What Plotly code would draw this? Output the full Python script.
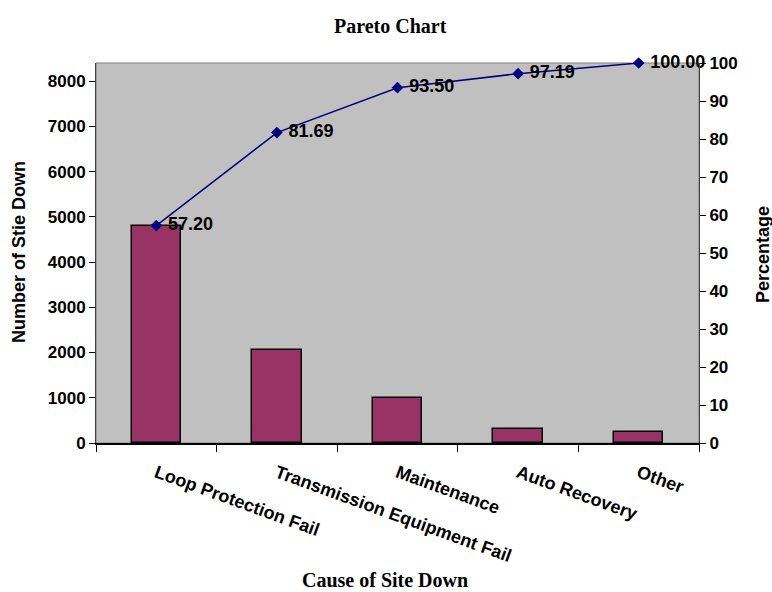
import plotly.graph_objects as go

# Site-down causes and their counts
causes = ["Loop Protection Fail", "Transmission Equipment Fail", "Maintenance",
          "Auto Recovery", "Other"]
counts = [4800, 2055, 991, 309, 236]

# Cumulative percentage for the Pareto line
total = sum(counts)
cum_pct = []
running = 0
for c in counts:
    running += c
    cum_pct.append(running / total * 100)

left_ticks = [0, 1000, 2000, 3000, 4000, 5000, 6000, 7000, 8000]
right_ticks = [0, 10, 20, 30, 40, 50, 60, 70, 80, 90, 100]

SANS = "Liberation Sans, Arial, sans-serif"
SERIF = "Liberation Serif, Times New Roman, serif"
tick_font = dict(family=SANS, size=17, color="black", weight="bold")
cat_font = dict(family=SANS, size=18, color="black", weight="bold")
label_font = dict(family=SANS, size=18, color="black", weight="bold")

fig = go.Figure()

fig.add_trace(go.Bar(
    x=causes, y=counts, width=0.41,
    marker=dict(color="#993366", line=dict(color="black", width=1.5)),
    yaxis="y", showlegend=False,
))

fig.add_trace(go.Scatter(
    x=causes, y=cum_pct, yaxis="y2",
    mode="lines+markers+text",
    line=dict(color="#000080", width=1.5),
    marker=dict(symbol="diamond", size=9, color="#000080"),
    text=["\u00a0" + f"{v:.2f}" for v in cum_pct],
    textposition="middle right",
    textfont=label_font,
    cliponaxis=False,
    showlegend=False,
))

fig.update_layout(
    width=772, height=592,
    margin=dict(l=96, r=73, t=63, b=149),
    paper_bgcolor="white",
    plot_bgcolor="#C0C0C0",
    bargap=0,
    xaxis=dict(
        type="category", range=[-0.5, 4.5],
        tickson="boundaries", ticks="outside", ticklen=7, tickcolor="black",
        showline=True, linecolor="black", linewidth=1.5,
        tickangle=20, tickfont=cat_font, ticklabelstandoff=11, showgrid=False,
    ),
    yaxis=dict(
        range=[0, 8400], tickvals=left_ticks,
        ticks="outside", ticklen=6, tickcolor="black",
        showline=True, linecolor="#404040", linewidth=1,
        tickfont=tick_font, showgrid=False, zeroline=False,
    ),
    yaxis2=dict(
        range=[0, 100], tickvals=right_ticks,
        overlaying="y", side="right",
        ticks="outside", ticklen=6, tickcolor="black",
        showline=True, linecolor="#404040", linewidth=1,
        tickfont=tick_font, showgrid=False, zeroline=False,
    ),
    shapes=[dict(type="rect", xref="paper", yref="paper", x0=0, x1=1, y0=0, y1=1,
                 line=dict(color="#808080", width=1), layer="below")],
    annotations=[
        dict(text="Pareto Chart", xref="paper", yref="paper",
             x=(390 - 96) / 603, y=1, yshift=37,
             xanchor="center", yanchor="middle", showarrow=False,
             font=dict(family=SERIF, size=20, color="black", weight="bold")),
        dict(text="Cause of Site Down", xref="paper", yref="paper",
             x=(385 - 96) / 603, y=0, yshift=-137,
             xanchor="center", yanchor="middle", showarrow=False,
             font=dict(family=SERIF, size=20, color="black", weight="bold")),
        dict(text="Number of Stie Down", xref="paper", yref="paper",
             x=0, xshift=-77, y=(443 - 252) / 380, textangle=-90,
             xanchor="center", yanchor="middle", showarrow=False,
             font=dict(family=SANS, size=18, color="black", weight="bold")),
        dict(text="Percentage", xref="paper", yref="paper",
             x=1, xshift=64, y=(443 - 255) / 380, textangle=-90,
             xanchor="center", yanchor="middle", showarrow=False,
             font=dict(family=SANS, size=18, color="black", weight="bold")),
    ],
)

fig.write_html("out.html")
